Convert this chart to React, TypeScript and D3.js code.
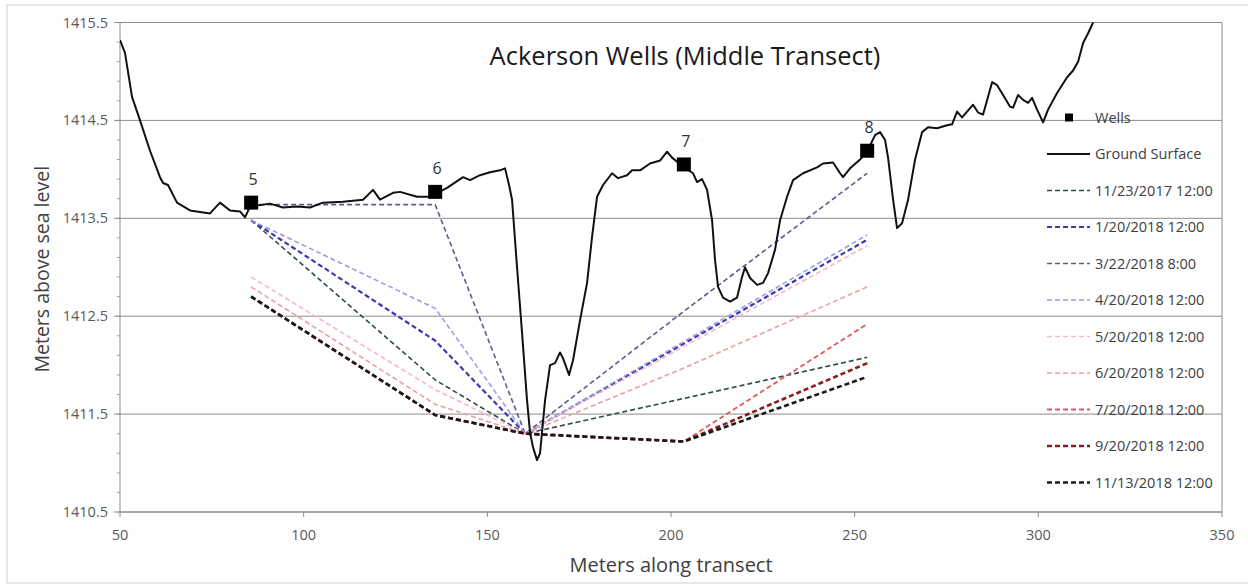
import React from 'react';
import * as d3 from 'd3';

// ---------- DATA ----------
const xTicks = [50, 100, 150, 200, 250, 300, 350];
const yTicks = [1410.5, 1411.5, 1412.5, 1413.5, 1414.5, 1415.5];

const wellX = [85.7, 135.8, 203.5, 253.4];
const wellElev = [1413.66, 1413.77, 1414.05, 1414.19];
const wellLabels = ['5', '6', '7', '8'];

const groundX = [
  50.0, 51.36, 53.27, 55.45, 58.17, 60.89, 61.71, 63.07, 65.52, 69.06, 74.5, 77.23, 79.95, 82.67, 84.03, 85.39,
  90.84, 94.38, 98.19, 101.73, 105.27, 110.71, 116.16, 118.88, 120.79, 124.33, 126.23, 130.86, 134.4, 139.03,
  143.39, 145.29, 148.01, 150.74, 153.46, 154.82, 155.91, 156.73, 158.09, 159.45, 160.81, 161.63, 162.45, 163.53,
  164.35, 165.71, 167.07, 168.43, 169.79, 170.61, 172.24, 173.33, 175.24, 177.15, 178.51, 179.87, 181.5, 183.95,
  185.59, 188.04, 189.4, 191.58, 194.3, 197.02, 198.93, 200.29, 201.92, 203.55, 206.0, 207.09, 208.45, 209.82,
  211.18, 212.0, 212.81, 214.17, 216.08, 217.98, 219.34, 220.16, 221.52, 223.43, 225.06, 226.42, 228.33, 229.69,
  231.6, 233.23, 235.95, 239.76, 241.4, 244.12, 246.03, 246.84, 248.75, 251.47, 253.38, 255.55, 256.92, 258.28,
  259.09, 260.46, 261.54, 262.9, 264.54, 266.44, 268.35, 269.98, 272.43, 275.16, 276.52, 277.88, 279.24, 280.6,
  282.24, 283.6, 284.96, 287.41, 288.77, 290.41, 292.31, 293.13, 294.49, 295.85, 297.21, 298.3, 299.66, 301.29,
  302.65, 305.1, 307.83, 309.46, 310.82, 312.19, 313.55, 314.91, 315.7,
];
const groundElev = [
  1415.32, 1415.19, 1414.74, 1414.5, 1414.19, 1413.92, 1413.86, 1413.84, 1413.66, 1413.58, 1413.55, 1413.66, 1413.58,
  1413.57, 1413.51, 1413.62, 1413.65, 1413.61, 1413.62, 1413.61, 1413.66, 1413.67, 1413.69, 1413.79, 1413.69,
  1413.76, 1413.77, 1413.72, 1413.72, 1413.81, 1413.92, 1413.89, 1413.94, 1413.97, 1413.99, 1414.01, 1413.84,
  1413.69, 1413.0, 1412.33, 1411.64, 1411.31, 1411.16, 1411.03, 1411.1, 1411.64, 1412.0, 1412.02, 1412.13, 1412.07,
  1411.9, 1412.05, 1412.46, 1412.84, 1413.31, 1413.72, 1413.84, 1413.96, 1413.91, 1413.94, 1413.99, 1413.99,
  1414.06, 1414.09, 1414.18, 1414.12, 1414.07, 1414.02, 1413.96, 1413.87, 1413.9, 1413.79, 1413.48, 1413.07,
  1412.8, 1412.69, 1412.65, 1412.69, 1412.9, 1413.0, 1412.89, 1412.82, 1412.84, 1412.94, 1413.18, 1413.48, 1413.72,
  1413.89, 1413.96, 1414.02, 1414.06, 1414.07, 1413.96, 1413.92, 1414.01, 1414.1, 1414.18, 1414.35, 1414.38,
  1414.3, 1414.12, 1413.69, 1413.4, 1413.45, 1413.69, 1414.1, 1414.38, 1414.43, 1414.42, 1414.45, 1414.46, 1414.59,
  1414.53, 1414.59, 1414.66, 1414.58, 1414.56, 1414.89, 1414.86, 1414.76, 1414.64, 1414.63, 1414.76, 1414.71,
  1414.68, 1414.73, 1414.61, 1414.48, 1414.61, 1414.78, 1414.94, 1415.01, 1415.1, 1415.29, 1415.39, 1415.5, 1415.58,
];

const seriesX = [85.7, 135.8, 160.3, 203.5, 253.4];
const seriesNames = [
  '11/23/2017 12:00', '1/20/2018 12:00', '3/22/2018 8:00', '4/20/2018 12:00', '5/20/2018 12:00',
  '6/20/2018 12:00', '7/20/2018 12:00', '9/20/2018 12:00', '11/13/2018 12:00',
];
const s20171123 = [1413.48, 1411.85, 1411.3, 1411.66, 1412.08];
const s20180120 = [1413.48, 1412.25, 1411.3, 1412.22, 1413.28];
const s20180322 = [1413.64, 1413.64, 1411.3, 1412.55, 1413.96];
const s20180420 = [1413.48, 1412.58, 1411.3, 1412.24, 1413.33];
const s20180520 = [1412.9, 1411.75, 1411.3, 1412.19, 1413.22];
const s20180620 = [1412.8, 1411.6, 1411.3, 1411.97, 1412.8];
const s20180720 = [1412.7, 1411.49, 1411.3, 1411.22, 1412.42];
const s20180920 = [1412.7, 1411.49, 1411.3, 1411.22, 1412.02];
const s20181113 = [1412.7, 1411.49, 1411.3, 1411.22, 1411.88];
const seriesValues = [s20171123, s20180120, s20180322, s20180420, s20180520, s20180620, s20180720, s20180920, s20181113];

// ---------- STYLE ----------
const seriesColors = ['#2f4a4a', '#3a3ab0', '#5c5c90', '#9c9ce0', '#f2b8cc', '#e8a0a0', '#e05a5a', '#8b1c1c', '#1a1a1a'];
const seriesWidths = [1.6, 2.2, 1.6, 1.6, 1.6, 1.6, 1.8, 2.6, 2.6];

const FONT = "'Open Sans', 'Liberation Sans', sans-serif";

export default function App() {
  const W = 1248, H = 585;
  const m = { left: 120, right: 1222, top: 22.5, bottom: 512 };
  const x = d3.scaleLinear().domain([50, 350]).range([m.left, m.right]);
  const y = d3.scaleLinear().domain([1410.5, 1415.5]).range([m.bottom, m.top]);

  const line = d3.line<[number, number]>().x(d => x(d[0])).y(d => y(d[1]));
  const groundPath = line(groundX.map((v, i) => [v, groundElev[i]] as [number, number])) || '';

  const minorY: number[] = d3.range(1410.5, 1415.5001, 0.2).map(v => +v.toFixed(2));

  const legendX = 1047;
  const legendTextX = 1095;
  const legendY0 = 117.5;
  const legendStep = 36.5;
  const LF = 14.5;

  return (
    <svg width={W} height={H} style={{ position: 'absolute', left: 0, top: 0, background: '#fff' }}>
      <defs>
        <clipPath id="plotClip">
          <rect x={m.left} y={m.top} width={m.right - m.left} height={m.bottom - m.top} />
        </clipPath>
      </defs>
      <rect x={0} y={0} width={W} height={H} fill="#fff" />
      <rect x={7} y={5} width={1250} height={578} fill="none" stroke="#d0d0d0" strokeWidth={1} />

      {/* gridlines */}
      {yTicks.map(t => (
        <line key={'g' + t} x1={m.left} x2={m.right} y1={y(t)} y2={y(t)} stroke="#8c8c8c" strokeWidth={1} />
      ))}
      <line x1={m.right} x2={m.right} y1={m.top} y2={m.bottom} stroke="#8c8c8c" strokeWidth={1} />

      {/* axes */}
      <line x1={m.left} x2={m.left} y1={m.top} y2={m.bottom} stroke="#8c8c8c" strokeWidth={1} />
      <line x1={m.left} x2={m.right} y1={m.bottom} y2={m.bottom} stroke="#8c8c8c" strokeWidth={1} />
      {minorY.map(t => (
        <line key={'mt' + t} x1={m.left - 3} x2={m.left} y1={y(t)} y2={y(t)} stroke="#a0a0a0" strokeWidth={1} />
      ))}
      {yTicks.map(t => (
        <g key={'yt' + t}>
          <line x1={m.left - 6} x2={m.left} y1={y(t)} y2={y(t)} stroke="#8c8c8c" strokeWidth={1} />
          <text x={m.left - 12} y={y(t)} dy="0.35em" textAnchor="end" fontFamily={FONT} fontSize={14.5} fill="#595959">
            {t.toFixed(1)}
          </text>
        </g>
      ))}
      {xTicks.map(t => (
        <g key={'xt' + t}>
          <line x1={x(t)} x2={x(t)} y1={m.bottom} y2={m.bottom + 5} stroke="#8c8c8c" strokeWidth={1} />
          <text x={x(t)} y={535} dy="0.35em" textAnchor="middle" fontFamily={FONT} fontSize={14.5} fill="#595959">
            {t}
          </text>
        </g>
      ))}

      {/* axis titles */}
      <text x={(m.left + m.right) / 2} y={565} dy="0.35em" textAnchor="middle" fontFamily={FONT} fontSize={20} fill="#404040">
        Meters along transect
      </text>
      <text transform={`translate(42,${(m.top + m.bottom) / 2 + 2}) rotate(-90)`} dy="0.35em" textAnchor="middle" fontFamily={FONT} fontSize={19.5} fill="#404040">
        Meters above sea level
      </text>

      {/* title */}
      <text x={685} y={56} dy="0.35em" textAnchor="middle" fontFamily={FONT} fontSize={25.5} fill="#1a1a1a">
        Ackerson Wells (Middle Transect)
      </text>

      {/* water level series */}
      <g clipPath="url(#plotClip)">
        {seriesValues.map((vals, i) => (
          <path
            key={'s' + i}
            d={line(seriesX.map((v, j) => [v, vals[j]] as [number, number])) || ''}
            fill="none"
            stroke={seriesColors[i]}
            strokeWidth={seriesWidths[i]}
            strokeDasharray="5,3"
          />
        ))}
        <path d={groundPath} fill="none" stroke="#111" strokeWidth={2} strokeLinejoin="round" />
      </g>

      {/* wells */}
      {wellX.map((wx, i) => (
        <g key={'w' + i}>
          <rect x={x(wx) - 7} y={y(wellElev[i]) - 7} width={14} height={14} fill="#000" />
          <text x={x(wx) + 2} y={y(wellElev[i]) - 23} dy="0.35em" textAnchor="middle" fontFamily={FONT} fontSize={16} fill="#333">
            {wellLabels[i]}
          </text>
        </g>
      ))}

      {/* legend */}
      <g>
        <rect x={1069 - 4} y={legendY0 - 4} width={8} height={8} fill="#000" />
        <text x={legendTextX} y={legendY0} dy="0.35em" fontFamily={FONT} fontSize={LF} fill="#404040">Wells</text>
        <line x1={legendX} x2={legendX + 43} y1={legendY0 + legendStep} y2={legendY0 + legendStep} stroke="#111" strokeWidth={2} />
        <text x={legendTextX} y={legendY0 + legendStep} dy="0.35em" fontFamily={FONT} fontSize={LF} fill="#404040">Ground Surface</text>
        {seriesNames.map((n, i) => {
          const ly = legendY0 + legendStep * (i + 2);
          return (
            <g key={'l' + i}>
              <line x1={legendX} x2={legendX + 43} y1={ly} y2={ly} stroke={seriesColors[i]} strokeWidth={seriesWidths[i]} strokeDasharray="5,3" />
              <text x={legendTextX} y={ly} dy="0.35em" fontFamily={FONT} fontSize={LF} fill="#404040">{n}</text>
            </g>
          );
        })}
      </g>
    </svg>
  );
}
